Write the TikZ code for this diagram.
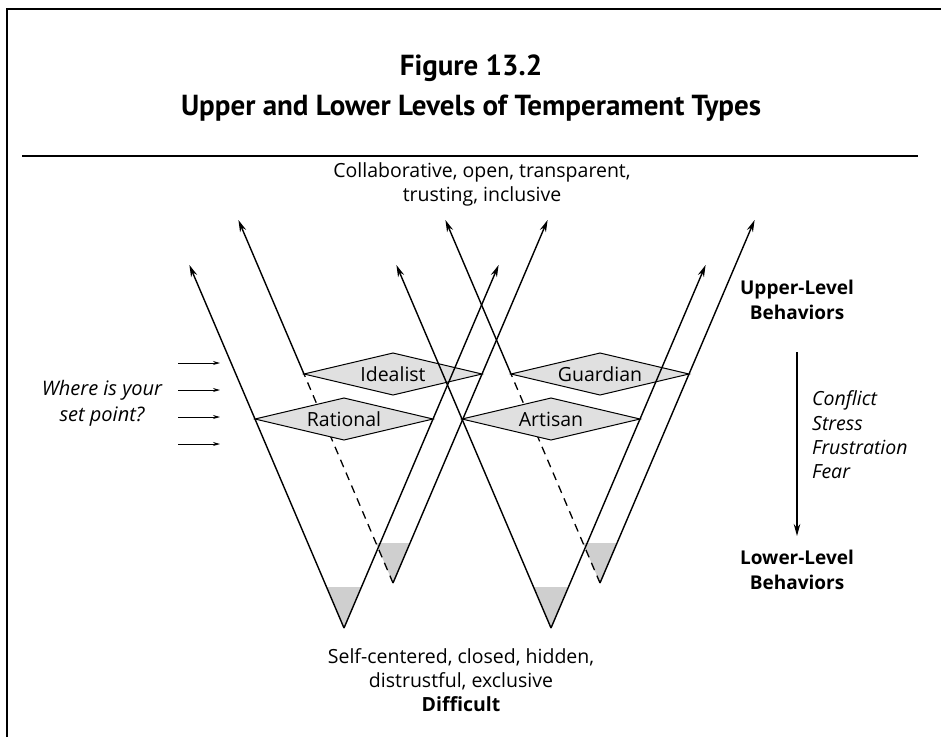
\documentclass[tikz,border=0pt]{standalone}
\usepackage{fontspec}
\setmainfont{Open Sans}
\newfontfamily\titlefont{PT Sans}
\usetikzlibrary{arrows.meta,shapes.geometric}

\begin{document}
\begin{tikzpicture}[
    x=1pt, y=-1pt,
    >={Stealth[length=12pt,width=6.5pt]},
    txt/.style={font=\fontsize{19.5}{24}\selectfont, align=center, inner sep=0pt},
    ttl/.style={font=\titlefont\bfseries\fontsize{29}{32}\selectfont, inner sep=0pt},
    temp/.style={diamond, aspect=4.24, draw, fill=black!12, line width=1pt,
                 minimum width=178pt, minimum height=42pt,
                 inner sep=0pt, outer sep=0pt, font=\fontsize{19.5}{24}\selectfont},
    arm/.style={->, line width=1.4pt},
    hidden/.style={line width=1.3pt, dash pattern=on 8pt off 6pt},
    pit/.style={fill=black!19},
    pointer/.style={-{Stealth[length=7pt,width=4pt]}, line width=0.9pt}
  ]
  \useasboundingbox (0,0) rectangle (941,737);

  %% ── Frame and title ──
  \draw[line width=2pt] (7,737) -- (7,9) -- (941,9);
  \node[ttl] (fig)   at (471,68)  {Figure 13.2};
  \node[ttl] (title) at (471,108) {Upper and Lower Levels of Temperament Types};
  \draw[line width=1.2pt] (22,156) -- (918,156);

  \node[txt] (upper) at (482,184) {Collaborative, open, transparent,\\trusting, inclusive};
  \node[txt] (lower) at (461,680) {Self-centered, closed, hidden,\\distrustful, exclusive\\\textbf{Difficult}};

  %% ── Back pair: Idealist, Guardian ──
  \coordinate (ideV)  at (393,583);
  \coordinate (ideTL) at (238.4,220);
  \coordinate (ideTR) at (547.6,220);
  \fill[pit] (ideV) -- (376,543) -- (410,543) -- cycle;
  \node[temp] (idealist) at (393,374) {Idealist};
  \draw[hidden] (ideV) -- (idealist.west);
  \draw[arm] (idealist.west) -- (ideTL);
  \draw[arm] (ideV) -- (ideTR);

  \coordinate (guaV)  at (600,583);
  \coordinate (guaTL) at (445.4,220);
  \coordinate (guaTR) at (754.6,220);
  \fill[pit] (guaV) -- (583,543) -- (617,543) -- cycle;
  \node[temp] (guardian) at (600,374) {Guardian};
  \draw[hidden] (guaV) -- (guardian.west);
  \draw[arm] (guardian.west) -- (guaTL);
  \draw[arm] (guaV) -- (guaTR);

  %% ── Front pair: Rational, Artisan ──
  \coordinate (ratV)  at (344,628);
  \coordinate (ratTL) at (189.4,265);
  \coordinate (ratTR) at (498.6,265);
  \fill[pit] (ratV) -- (326.5,587) -- (361.5,587) -- cycle;
  \node[temp] (rational) at (344,419) {Rational};
  \draw[arm] (ratV) -- (ratTL);
  \draw[arm] (ratV) -- (ratTR);

  \coordinate (artV)  at (551,628);
  \coordinate (artTL) at (396.4,265);
  \coordinate (artTR) at (705.6,265);
  \fill[pit] (artV) -- (533.5,587) -- (568.5,587) -- cycle;
  \node[temp] (artisan) at (551,419) {Artisan};
  \draw[arm] (artV) -- (artTL);
  \draw[arm] (artV) -- (artTR);

  %% ── Set point ──
  \node[txt, font=\itshape\fontsize{20}{26}\selectfont] (setpt) at (102,403)
      {Where is your\\set point?};
  \foreach \y [count=\i] in {363,390,417,444} {
    \coordinate (spa\i) at (178,\y);
    \coordinate (spb\i) at (220,\y);
    \draw[pointer] (spa\i) -- (spb\i);
  }

  %% ── Levels ──
  \node[txt, font=\bfseries\fontsize{19}{25}\selectfont] (upperlbl) at (797,300)
      {Upper-Level\\Behaviors};
  \node[txt, font=\bfseries\fontsize{19}{25}\selectfont] (lowerlbl) at (797,570)
      {Lower-Level\\Behaviors};
  \draw[->, line width=1.4pt, shorten <=32pt, shorten >=14pt] (upperlbl) -- (lowerlbl);
  \node[txt, align=left, anchor=west, font=\itshape\fontsize{19.5}{24.3}\selectfont]
    (stresslbl) at (812,435) {Conflict\\Stress\\Frustration\\Fear};

\end{tikzpicture}
\end{document}
